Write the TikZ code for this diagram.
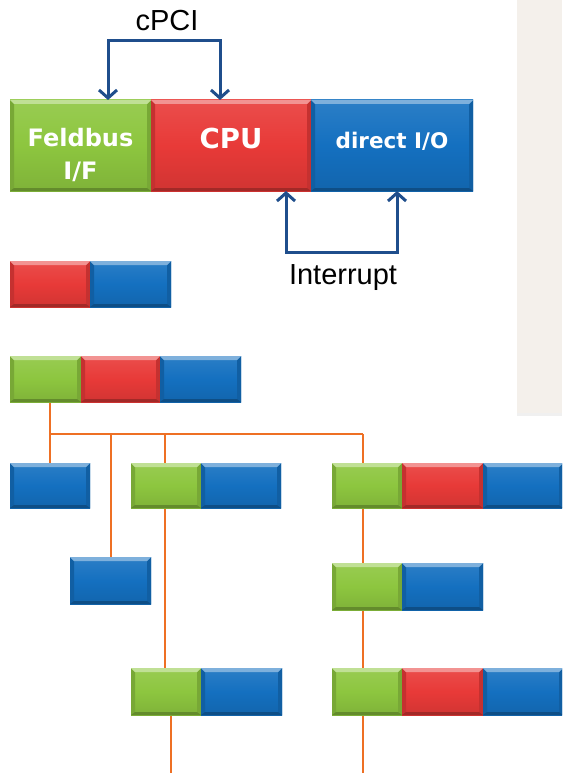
\documentclass[tikz,border=0pt]{standalone}
\usepackage{fontspec}
\newfontfamily\labfont{Liberation Sans}
\newfontfamily\boxfont{DejaVu Sans}
\usetikzlibrary{arrows.meta,backgrounds}
\definecolor{cgreen}{RGB}{141,198,63}
\definecolor{cred}{RGB}{232,58,56}
\definecolor{cblue}{RGB}{20,112,192}
\definecolor{cdark}{RGB}{31,78,140}
\definecolor{corange}{RGB}{238,112,36}
\definecolor{cpanel}{RGB}{244,240,235}
\newcommand\bevdraw[1]{%
  \fill[#1!85!black] (path picture bounding box.north west) -- ([xshift=4pt,yshift=-4pt]path picture bounding box.north west) -- ([xshift=4pt,yshift=3pt]path picture bounding box.south west) -- (path picture bounding box.south west) -- cycle;
  \fill[#1!85!black] (path picture bounding box.north east) -- ([xshift=-4pt,yshift=-4pt]path picture bounding box.north east) -- ([xshift=-4pt,yshift=3pt]path picture bounding box.south east) -- (path picture bounding box.south east) -- cycle;
  \fill[#1!55!white] (path picture bounding box.north west) -- (path picture bounding box.north east) -- ([xshift=-4pt,yshift=-4pt]path picture bounding box.north east) -- ([xshift=4pt,yshift=-4pt]path picture bounding box.north west) -- cycle;
  \fill[#1!70!black] (path picture bounding box.south west) -- (path picture bounding box.south east) -- ([xshift=-4pt,yshift=3pt]path picture bounding box.south east) -- ([xshift=4pt,yshift=3pt]path picture bounding box.south west) -- cycle;
}
\tikzset{
  seg/.style={rectangle, inner sep=0pt, outer sep=0pt, anchor=north west,
    top color=#1!90!white, bottom color=#1!90!black, middle color=#1,
    path picture={\bevdraw{#1}}, text=white, font=\boxfont\bfseries},
  bus/.style={corange, line width=2.3pt},
  arr/.style={cdark, line width=3pt, line join=miter,
    {Straight Barb[length=8pt,width=18pt]}-{Straight Barb[length=8pt,width=18pt]}},
  lab/.style={font=\labfont\fontsize{29}{32}\selectfont, text=black, inner sep=0pt}
}
\begin{document}
\begin{tikzpicture}[x=1pt,y=-1pt]
\useasboundingbox (0,0) rectangle (562,773);
\clip (0,0) rectangle (562,773);
% top row
\node[seg=cgreen, minimum width=141pt, minimum height=91pt, align=center, font=\boxfont\bfseries\fontsize{24}{33}\selectfont] (fb) at (10,100) {\raisebox{-34.5pt}[0pt][0pt]{\shortstack{Feldbus\\[13pt]I/F}}};
\node[seg=cred, minimum width=160pt, minimum height=91pt, font=\boxfont\bfseries\fontsize{27.5}{30}\selectfont] (cpu) at (151,100) {\raisebox{-2.5pt}[0pt][0pt]{CPU}};
\node[seg=cblue, minimum width=162pt, minimum height=91pt, font=\boxfont\bfseries\fontsize{21.5}{26}\selectfont] (dio) at (311,100) {\raisebox{-2.5pt}[0pt][0pt]{direct I/O}};
% labels and arrows
\node[lab] (cpci) at (167,21) {cPCI};
\coordinate (c1) at (108,41);
\coordinate (c2) at (220,41);
\draw[arr] (fb.north -| c1) -- (c1) -- (c2) -- (cpu.north -| c2);
\coordinate (c3) at (286,252);
\coordinate (c4) at (397,252);
\draw[arr] (cpu.south -| c3) -- (c3) -- (c4) -- (dio.south -| c4);
\node[lab] (intr) at (343,278) {Interrupt};
% row 2
\node[seg=cred, minimum width=80pt, minimum height=46pt] (r2r) at (10,261) {};
\node[seg=cblue, minimum width=81pt, minimum height=46pt] (r2b) at (90,261) {};
% row 3
\node[seg=cgreen, minimum width=71pt, minimum height=46pt] (r3g) at (10,356) {};
\node[seg=cred, minimum width=79pt, minimum height=46pt] (r3r) at (81,356) {};
\node[seg=cblue, minimum width=81pt, minimum height=46pt] (r3b) at (160,356) {};
% row 4
\node[seg=cblue, minimum width=80pt, minimum height=45pt] (r4b) at (10,463) {};
\node[seg=cgreen, minimum width=70pt, minimum height=45pt] (r4g) at (131,463) {};
\node[seg=cblue, minimum width=80pt, minimum height=45pt] (r4gb) at (201,463) {};
\node[seg=cgreen, minimum width=70pt, minimum height=45pt] (q4g) at (332,463) {};
\node[seg=cred, minimum width=81pt, minimum height=45pt] (q4r) at (402,463) {};
\node[seg=cblue, minimum width=80pt, minimum height=45pt] (q4b) at (483,463) {};
% row 5
\node[seg=cblue, minimum width=81pt, minimum height=47pt] (r5b) at (70,557) {};
\node[seg=cgreen, minimum width=70pt, minimum height=47pt] (q5g) at (332,563) {};
\node[seg=cblue, minimum width=81pt, minimum height=47pt] (q5b) at (402,563) {};
% row 6
\node[seg=cgreen, minimum width=70pt, minimum height=47pt] (r6g) at (131,668) {};
\node[seg=cblue, minimum width=81pt, minimum height=47pt] (r6b) at (201,668) {};
\node[seg=cgreen, minimum width=70pt, minimum height=47pt] (q6g) at (332,668) {};
\node[seg=cred, minimum width=81pt, minimum height=47pt] (q6r) at (402,668) {};
\node[seg=cblue, minimum width=80pt, minimum height=47pt] (q6b) at (483,668) {};
% bus lines
\coordinate (j1) at (50,434);
\coordinate (j2) at (111,434);
\coordinate (j3) at (165,434);
\coordinate (j4) at (363,434);
\coordinate (e1) at (171,773);
\coordinate (e2) at (363,773);
\begin{scope}[on background layer]
\fill[white] (0,0) rectangle (562,773);
\fill[cpanel] (517,0) rectangle (562,413);
\fill[black!6] (517,413) rectangle (562,416);
\draw[bus] (r3g.south -| j1) -- (j1) -- (j4);
\draw[bus] (j1) -- (r4b.north -| j1);
\draw[bus] (j2) -- (r5b.north -| j2);
\draw[bus] (j3) -- (r4g.north -| j3);
\draw[bus] (r4g.south -| j3) -- (r6g.north -| j3);
\draw[bus] (r6g.south -| e1) -- (e1);
\draw[bus] (j4) -- (e2);
\end{scope}
\end{tikzpicture}
\end{document}
